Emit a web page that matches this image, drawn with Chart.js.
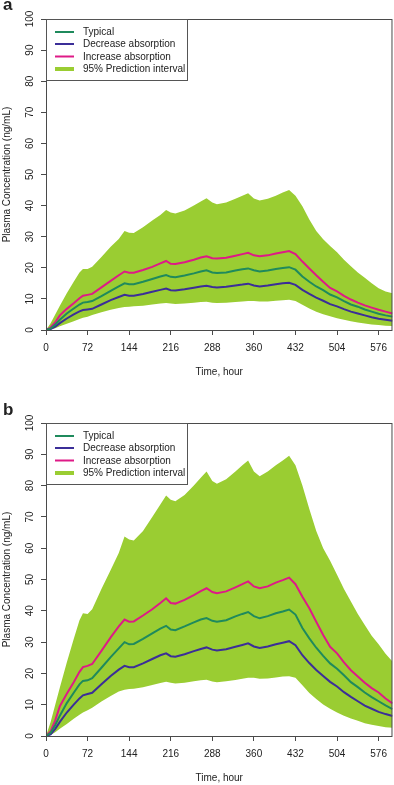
<!DOCTYPE html>
<html>
<head>
<meta charset="utf-8">
<script src="https://cdn.jsdelivr.net/npm/chart.js@4.4.0/dist/chart.umd.min.js"></script>
<style>
  html, body { margin: 0; padding: 0; background: #fff; }
  canvas { display: block; }
</style>
</head>
<body>
<canvas id="chartA" width="394" height="390"></canvas>
<canvas id="chartB" width="394" height="395"></canvas>
<script>
// time grid, hours
const hours = [0, 8, 16, 24, 36, 48, 58, 64, 72, 80,
  96, 112, 126, 136, 144, 152, 168, 184, 198, 208,
  216, 224, 240, 256, 268, 278, 288, 296, 312, 328,
  340, 350, 360, 370, 384, 398, 410, 421, 432, 444,
  456, 468, 480, 492, 504, 516, 528, 540, 552, 564,
  576, 588, 600]
const xTickVals = [0, 72, 144, 216, 288, 360, 432, 504, 576]
const yTickVals = [0, 10, 20, 30, 40, 50, 60, 70, 80, 90, 100]
const labels = ['Typical', 'Decrease absorption', 'Increase absorption', '95% Prediction interval']

// panel a
const typicalA = [0, 0.5, 1.8, 3.3, 5.3, 6.9, 8.2, 8.8, 9.0, 9.3,
  10.9, 12.6, 14.0, 15.0, 14.7, 14.7, 15.5, 16.4, 17.2, 17.7,
  17.1, 17.0, 17.5, 18.2, 18.8, 19.2, 18.5, 18.3, 18.5, 19.1,
  19.5, 19.8, 19.2, 18.8, 19.1, 19.6, 19.9, 20.2, 19.4, 17.2,
  15.5, 14.0, 12.8, 11.4, 10.5, 9.3, 8.2, 7.5, 6.6, 5.9,
  5.2, 4.7, 4.3]
const decreaseA = [0, 0.3, 1.1, 2.2, 3.7, 5.0, 6.0, 6.4, 6.6, 6.8,
  8.2, 9.6, 10.6, 11.3, 11.0, 11.0, 11.6, 12.3, 12.9, 13.3,
  12.8, 12.7, 13.1, 13.6, 14.0, 14.2, 13.8, 13.7, 13.9, 14.3,
  14.6, 14.9, 14.3, 14.0, 14.3, 14.7, 15.0, 15.2, 14.5, 12.9,
  11.6, 10.4, 9.4, 8.3, 7.6, 6.7, 5.9, 5.3, 4.7, 4.1,
  3.6, 3.3, 3.0]
const increaseA = [0, 0.8, 2.5, 4.7, 6.8, 8.6, 10.2, 11.0, 11.3, 11.6,
  13.7, 15.8, 17.6, 18.8, 18.4, 18.4, 19.3, 20.3, 21.4, 22.2,
  21.3, 21.2, 21.8, 22.6, 23.3, 23.7, 23.1, 23.0, 23.2, 23.9,
  24.4, 24.8, 24.0, 23.7, 24.0, 24.6, 25.0, 25.4, 24.4, 22.0,
  19.8, 17.6, 15.5, 13.5, 12.4, 11.0, 9.8, 8.8, 7.9, 7.2,
  6.5, 5.9, 5.3]
const upperA = [0, 2.2, 5.0, 7.8, 11.8, 15.5, 18.5, 19.6, 19.6, 20.3,
  23.5, 26.8, 29.3, 31.8, 31.3, 31.2, 33.0, 35.2, 37.0, 38.6,
  37.8, 37.5, 38.4, 40.0, 41.3, 42.4, 41.0, 40.4, 41.0, 42.2,
  43.2, 44.0, 42.3, 41.6, 42.2, 43.2, 44.2, 45.0, 43.2, 39.8,
  35.5, 31.8, 29.2, 27.0, 25.0, 22.6, 20.5, 18.5, 16.8, 15.0,
  13.4, 12.4, 11.8]
const lowerA = [0, 0.2, 0.6, 1.2, 2.0, 2.8, 3.5, 3.9, 4.3, 4.8,
  5.7, 6.5, 7.1, 7.4, 7.5, 7.6, 7.8, 8.2, 8.5, 8.7,
  8.5, 8.4, 8.5, 8.8, 9.0, 9.1, 8.8, 8.7, 8.8, 9.0,
  9.2, 9.3, 9.3, 9.2, 9.2, 9.4, 9.6, 9.7, 9.3, 8.1,
  6.9, 5.9, 5.1, 4.4, 3.8, 3.3, 2.8, 2.4, 2.1, 1.8,
  1.6, 1.4, 1.3]

// panel b
const typicalB = [0, 1.0, 3.5, 6.5, 10.5, 13.8, 16.5, 17.6, 17.8, 18.5,
  21.8, 25.2, 28.0, 30.0, 29.3, 29.4, 31.0, 32.8, 34.3, 35.2,
  34.0, 33.8, 35.0, 36.3, 37.2, 37.7, 36.8, 36.5, 37.0, 38.2,
  39.0, 39.6, 38.3, 37.6, 38.3, 39.2, 39.8, 40.4, 38.8, 34.5,
  31.2, 28.2, 25.6, 23.2, 21.5, 19.4, 17.2, 15.6, 13.9, 12.4,
  11.1, 9.8, 8.6]
const decreaseB = [0, 0.5, 2.3, 4.5, 7.5, 10.0, 12.0, 13.0, 13.4, 13.8,
  16.5, 19.2, 21.2, 22.4, 22.0, 22.0, 23.2, 24.6, 25.8, 26.4,
  25.5, 25.3, 26.1, 27.1, 27.8, 28.3, 27.6, 27.3, 27.7, 28.5,
  29.1, 29.6, 28.6, 28.1, 28.6, 29.3, 29.8, 30.3, 29.0, 25.8,
  23.3, 21.1, 19.2, 17.3, 15.8, 14.0, 12.5, 11.1, 9.7, 8.7,
  7.7, 7.0, 6.4]
const increaseB = [0, 1.5, 5.0, 9.5, 13.5, 17.2, 20.5, 22.0, 22.4, 23.0,
  27.2, 31.5, 35.0, 37.2, 36.5, 36.6, 38.5, 40.5, 42.5, 44.0,
  42.5, 42.3, 43.5, 45.0, 46.3, 47.2, 46.0, 45.6, 46.2, 47.5,
  48.5, 49.4, 47.8, 47.2, 47.8, 49.0, 49.8, 50.6, 48.5, 44.5,
  40.8, 36.5, 32.3, 28.5, 26.4, 23.5, 21.0, 19.0, 17.0, 15.3,
  13.9, 12.0, 10.4]
const upperB = [0, 4.5, 10.0, 15.5, 23.5, 31.0, 37.0, 39.2, 39.0, 40.5,
  47.0, 53.0, 58.5, 63.7, 62.8, 62.5, 65.5, 70.0, 74.0, 76.8,
  75.5, 75.0, 77.0, 80.0, 82.5, 84.5, 81.5, 80.6, 82.0, 84.5,
  86.5, 88.0, 84.5, 83.0, 84.5, 86.5, 88.0, 89.5, 86.5, 80.0,
  72.5, 65.5, 60.0, 56.0, 51.5, 47.0, 43.0, 39.0, 35.5, 32.0,
  29.3, 26.3, 23.8]
const lowerB = [0, 0.3, 1.2, 2.3, 3.8, 5.5, 6.8, 7.5, 8.2, 9.0,
  11.0, 12.8, 14.2, 14.8, 15.0, 15.1, 15.6, 16.3, 16.9, 17.3,
  17.0, 16.8, 17.0, 17.5, 17.8, 18.0, 17.4, 17.2, 17.5, 17.9,
  18.3, 18.6, 18.6, 18.3, 18.4, 18.7, 19.0, 19.1, 18.6, 16.2,
  13.7, 11.8, 10.1, 8.7, 7.5, 6.5, 5.6, 4.9, 4.1, 3.6,
  3.2, 2.8, 2.6]

const FONT = '"Liberation Sans", Arial, Helvetica, sans-serif'
const textColor = '#222'
const axisColor = '#4a4a4a'
const colors = ['#1f8a5c', '#3b2e98', '#de1a87', '#9acd32']

const pts = arr => hours.map((h, i) => ({ x: h, y: arr[i] }))

// box, custom y labels, titles, panel letter and legend
const decor = {
  id: 'decor',
  afterDatasetsDraw(chart, args, opts) {
    const { ctx, chartArea: a, scales: { y } } = chart
    ctx.save()
    ctx.strokeStyle = axisColor
    ctx.lineWidth = 1
    ctx.strokeRect(a.left + 0.5, a.top + 0.5, a.right - a.left - 1, a.bottom - a.top)

    ctx.fillStyle = textColor
    ctx.font = '10px ' + FONT
    ctx.textAlign = 'center'
    ctx.textBaseline = 'middle'
    yTickVals.forEach(v => {
      ctx.save()
      ctx.translate(30, y.getPixelForValue(v))
      ctx.rotate(-Math.PI / 2)
      ctx.fillText(String(v), 0, 0)
      ctx.restore()
    })
    ctx.save()
    ctx.translate(7, (a.top + a.bottom) / 2)
    ctx.rotate(-Math.PI / 2)
    ctx.fillText('Plasma Concentration (ng/mL)', 0, 0)
    ctx.restore()
    ctx.fillText('Time, hour', (a.left + a.right) / 2, a.bottom + 42)

    ctx.font = 'bold 17px ' + FONT
    ctx.textAlign = 'left'
    ctx.textBaseline = 'alphabetic'
    ctx.fillText(opts.letter, 3, opts.letterY)

    // legend
    const lx = a.left, ly = a.top
    ctx.fillStyle = '#fff'
    ctx.fillRect(lx, ly, 141, 61)
    ctx.strokeStyle = '#555'
    ctx.strokeRect(lx + 0.5, ly + 0.5, 141, 61)
    ctx.font = '10px ' + FONT
    ctx.textBaseline = 'middle'
    const rows = [13, 25, 37.5, 50]
    labels.forEach((lab, i) => {
      const ry = ly + rows[i]
      ctx.strokeStyle = colors[i]
      ctx.lineWidth = i === 3 ? 4 : 2
      ctx.beginPath()
      ctx.moveTo(lx + 9, ry)
      ctx.lineTo(lx + 28, ry)
      ctx.stroke()
      ctx.fillStyle = textColor
      ctx.fillText(lab, lx + 37, ry + 0.5)
    })
    ctx.restore()
  }
}

function makePanel(id, letter, letterY, top, xAxisH, typical, decrease, increase, upper, lower) {
  const line = (label, data, color) => ({
    label, data: pts(data), borderColor: color, borderWidth: 2,
    pointRadius: 0, fill: false, tension: 0
  })
  new Chart(document.getElementById(id), {
    type: 'line',
    data: {
      datasets: [
        line(labels[0], typical, colors[0]),
        line(labels[1], decrease, colors[1]),
        line(labels[2], increase, colors[2]),
        { label: labels[3], data: pts(upper), borderWidth: 0, borderColor: 'rgba(0,0,0,0)',
          backgroundColor: colors[3], pointRadius: 0, fill: '+1', tension: 0 },
        { label: 'lower', data: pts(lower), borderWidth: 0, borderColor: 'rgba(0,0,0,0)',
          pointRadius: 0, fill: false, tension: 0 }
      ]
    },
    options: {
      responsive: false,
      animation: false,
      layout: { padding: { top: top, right: 1, left: 0, bottom: 0 } },
      plugins: {
        legend: { display: false },
        tooltip: { enabled: false },
        decor: { letter, letterY }
      },
      scales: {
        x: {
          type: 'linear', min: 0, max: 600,
          afterBuildTicks: s => { s.ticks = xTickVals.map(v => ({ value: v })) },
          afterFit: s => { s.height = xAxisH },
          grid: { drawOnChartArea: false, drawTicks: true, tickLength: 5, color: axisColor },
          border: { display: false },
          ticks: { font: { family: FONT, size: 10 }, color: textColor, padding: 7, maxRotation: 0, autoSkip: false }
        },
        y: {
          min: 0, max: 100,
          afterBuildTicks: s => { s.ticks = yTickVals.map(v => ({ value: v })) },
          afterFit: s => { s.width = 46 },
          grid: { drawOnChartArea: false, drawTicks: true, tickLength: 5, color: axisColor },
          border: { display: false },
          ticks: { display: false }
        }
      }
    },
    plugins: [decor]
  })
}

makePanel('chartA', 'a', 10, 19, 60, typicalA, decreaseA, increaseA, upperA, lowerA)
makePanel('chartB', 'b', 25, 33, 49, typicalB, decreaseB, increaseB, upperB, lowerB)
</script>
</body>
</html>
